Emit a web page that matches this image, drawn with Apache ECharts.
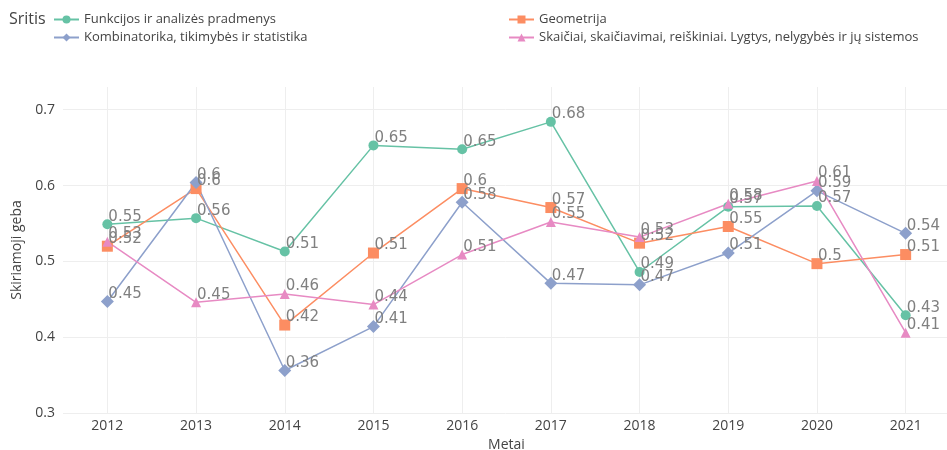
<html>
<head>
<meta charset="utf-8">
<script src="https://cdn.jsdelivr.net/npm/echarts@6/dist/echarts.min.js"></script>
<style>
    html, body, #main {
        width: 100%;
        height: 100%;
        margin: 0;
        background: #fff;
    }
</style>
</head>
<body>
<div id="main"></div>
<script>
const years = ['2012','2013','2014','2015','2016','2017','2018','2019','2020','2021'];

const funkcijos     = [0.549, 0.557, 0.513, 0.653, 0.648, 0.684, 0.486, 0.572, 0.573, 0.429];
const geometrija    = [0.520, 0.596, 0.416, 0.511, 0.596, 0.571, 0.524, 0.546, 0.497, 0.509];
const kombinatorika = [0.447, 0.604, 0.356, 0.414, 0.578, 0.471, 0.469, 0.511, 0.593, 0.537];
const skaiciai      = [0.526, 0.446, 0.457, 0.443, 0.509, 0.552, 0.532, 0.576, 0.606, 0.406];

const names = [
    'Funkcijos ir analizės pradmenys',
    'Geometrija',
    'Kombinatorika, tikimybės ir statistika',
    'Skaičiai, skaičiavimai, reiškiniai. Lygtys, nelygybės ir jų sistemos'
];

function mkSeries(name, data, color, symbol, size) {
    return {
        name: name,
        type: 'line',
        data: data,
        symbol: symbol,
        symbolSize: size,
        showAllSymbol: true,
        lineStyle: {color: color, width: 1.5},
        itemStyle: {color: color},
        emphasis: {disabled: true},
        label: {
            show: true,
            position: [size / 2 + 1, size / 2],
            align: 'left',
            verticalAlign: 'bottom',
            fontFamily: 'DejaVu Sans',
            fontSize: 15,
            color: '#808080',
            formatter: function (p) { return String(Number(p.value.toFixed(2))); }
        }
    };
}

var myChart = echarts.init(document.getElementById('main'));

option = {
    animation: false,
    textStyle: {fontFamily: 'Open Sans'},
    title: {
        text: 'Sritis',
        left: 4,
        top: 6,
        textStyle: {fontSize: 16, fontWeight: 'normal', color: '#444', fontFamily: 'Open Sans'}
    },
    legend: [
        {
            orient: 'vertical',
            left: 53,
            top: 13,
            padding: 0,
            itemWidth: 25,
            itemHeight: 10,
            itemGap: 5,
            data: [names[0], names[2]],
            textStyle: {fontSize: 13, color: '#444', fontFamily: 'Open Sans'}
        },
        {
            orient: 'vertical',
            left: 508,
            top: 13,
            padding: 0,
            itemWidth: 25,
            itemHeight: 10,
            itemGap: 5,
            data: [names[1], names[3]],
            textStyle: {fontSize: 13, color: '#444', fontFamily: 'Open Sans'}
        }
    ],
    grid: {left: 63, right: -3, top: 87, bottom: 37, outerBoundsMode: 'none', containLabel: false},
    xAxis: {
        type: 'category',
        data: years,
        boundaryGap: true,
        name: 'Metai',
        nameLocation: 'middle',
        nameGap: 22,
        nameTextStyle: {fontSize: 14, color: '#444'},
        axisLine: {show: false},
        axisTick: {show: false, alignWithLabel: true},
        axisLabel: {fontSize: 14, color: '#444', margin: 6},
        splitLine: {show: true, alignWithLabel: true, lineStyle: {color: '#eee', width: 1}}
    },
    yAxis: {
        type: 'value',
        min: 0.3,
        max: 0.73,
        interval: 0.1,
        name: 'Skiriamoji geba',
        nameLocation: 'middle',
        nameGap: 38,
        nameTextStyle: {fontSize: 14, color: '#444'},
        axisLine: {show: false},
        axisTick: {show: false},
        axisLabel: {
            fontSize: 14, color: '#444', margin: 8, showMaxLabel: false,
            formatter: function (v) { return String(Number(v.toFixed(2))); }
        },
        splitLine: {show: true, showMaxLine: false, lineStyle: {color: '#eee', width: 1}}
    },
    series: [
        mkSeries(names[0], funkcijos, '#66c2a5', 'circle', 10),
        mkSeries(names[1], geometrija, '#fc8d62', 'rect', 11),
        mkSeries(names[2], kombinatorika, '#8da0cb', 'diamond', 13),
        mkSeries(names[3], skaiciai, '#e78ac3', 'triangle', 10)
    ]
};
myChart.setOption(option);
</script>
</body>
</html>
